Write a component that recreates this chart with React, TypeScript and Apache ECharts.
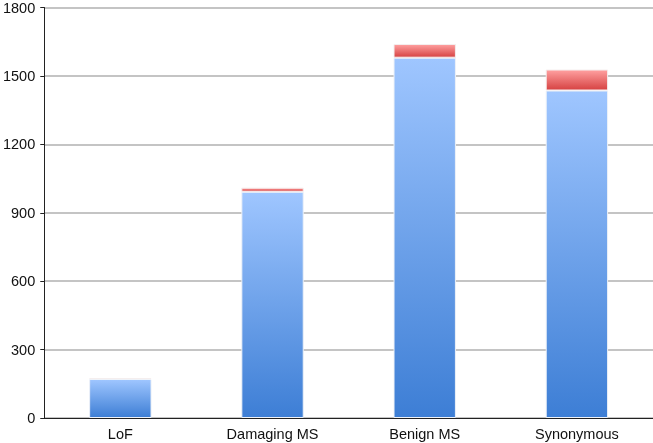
import React, { useEffect, useRef } from "react";
import * as echarts from "echarts";

const categories = ["LoF", "Damaging MS", "Benign MS", "Synonymous"];
const blueValues = [171, 992, 1580, 1436];
const redValues = [4, 18, 60, 92];
const yTicks = [0, 300, 600, 900, 1200, 1500, 1800];

export default function App() {
  const ref = useRef<HTMLDivElement>(null);
  useEffect(() => {
    if (!ref.current) return;
    const chart = echarts.init(ref.current, null, { renderer: "svg" });
    const blueGrad = new echarts.graphic.LinearGradient(0, 0, 0, 1, [
      { offset: 0, color: "#9fc6ff" },
      { offset: 1, color: "#3d7ed5" },
    ]);
    const redGrad = new echarts.graphic.LinearGradient(0, 0, 0, 1, [
      { offset: 0, color: "#ffa0a0" },
      { offset: 1, color: "#d64242" },
    ]);
    chart.setOption({
      animation: false,
      grid: { left: 38, right: 0, top: 6, bottom: 25, containLabel: false },
      xAxis: {
        type: "category",
        data: categories,
        axisLine: { lineStyle: { color: "#222", width: 1 } },
        axisTick: { show: false },
        axisLabel: {
          color: "#111",
          fontFamily: "Liberation Sans, Arial, sans-serif",
          fontSize: 14.5,
          margin: 8,
        },
      },
      yAxis: {
        type: "value",
        min: yTicks[0],
        max: yTicks[yTicks.length - 1],
        interval: 300,
        axisLine: { show: true, lineStyle: { color: "#222", width: 1 } },
        axisTick: { show: true, length: 4, lineStyle: { color: "#222" } },
        axisLabel: {
          color: "#111",
          fontFamily: "Liberation Sans, Arial, sans-serif",
          fontSize: 14.5,
          margin: 9,
          formatter: (v: number) => String(v),
        },
        splitLine: { lineStyle: { color: "#b0b0b0", width: 1.5 } },
      },
      series: [
        {
          type: "bar",
          stack: "total",
          data: blueValues,
          barWidth: "41%",
          itemStyle: { color: blueGrad, borderColor: "#eef2f8", borderWidth: 1 },
        },
        {
          type: "bar",
          stack: "total",
          data: redValues,
          barWidth: "41%",
          itemStyle: { color: redGrad, borderColor: "#f4eeee", borderWidth: 1 },
        },
      ],
    });
    return () => chart.dispose();
  }, []);
  return (
    <div
      ref={ref}
      style={{ position: "fixed", left: 0, top: 0, width: 653, height: 443 }}
    />
  );
}
